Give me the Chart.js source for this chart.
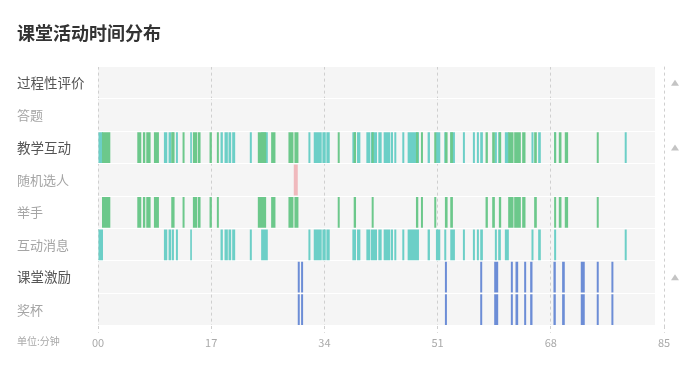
<!DOCTYPE html>
<html>
<head>
<meta charset="utf-8">
<script src="https://cdn.jsdelivr.net/npm/chart.js@4/dist/chart.umd.min.js"></script>
<style>
  html, body { margin: 0; padding: 0; background: #fff; }
  #wrap { width: 692px; height: 366px; }
</style>
</head>
<body>
<div id="wrap"><canvas id="chart"></canvas></div>
<script>
// linhas do gráfico (categorias)
const rows = ['过程性评价', '答题', '教学互动', '随机选人', '举手', '互动消息', '课堂激励', '奖杯'];
const groupRows = ['过程性评价', '教学互动', '课堂激励'];

// eixo x (minutos)
const xTicks = [0, 17, 34, 51, 68, 85];

// segmentos [início, fim] em minutos
const handUp = [
  [0.6, 1.85], [5.9, 6.5], [6.75, 7.1], [7.25, 7.9], [8.4, 9.15], [11.0, 11.5], [12.7, 13.0],
  [14.25, 14.9], [15.0, 15.4], [16.75, 17.1], [17.85, 18.15], [24.0, 25.25], [26.0, 26.65],
  [28.6, 29.35], [29.5, 30.1], [36.0, 36.3], [38.4, 38.75], [41.1, 41.4], [47.75, 48.1],
  [48.5, 48.8], [50.5, 50.8], [52.1, 52.5], [52.9, 53.3], [58.2, 58.55], [59.2, 59.6],
  [60.2, 60.55], [61.6, 62.4], [62.5, 63.5], [63.7, 64.2], [65.5, 65.9], [68.5, 68.8],
  [69.2, 69.6], [70.1, 70.6], [74.9, 75.2]
];
const messages = [
  [0, 0.75], [9.9, 10.4], [10.6, 11.0], [11.1, 11.4], [11.7, 12.0], [13.85, 14.1], [18.4, 18.75],
  [19.0, 19.5], [19.6, 20.0], [20.15, 20.6], [22.8, 23.1], [24.5, 25.5], [31.6, 31.9], [32.4, 33.6],
  [33.7, 34.2], [34.3, 34.8], [38.2, 38.75], [38.9, 39.4], [40.3, 40.9], [41.0, 41.9], [42.1, 42.6],
  [42.9, 43.9], [44.0, 44.3], [44.5, 44.8], [45.7, 46.0], [46.5, 48.2], [49.5, 49.85], [50.75, 51.4],
  [52.0, 52.3], [52.9, 53.6], [54.8, 55.1], [56.3, 56.6], [56.9, 57.2], [57.4, 57.8], [59.6, 59.9],
  [60.1, 60.5], [61.1, 61.7], [65.1, 65.4], [66.1, 66.5], [68.5, 68.8], [79.1, 79.4]
];
const randomPick = [[29.4, 30.0]];
const trophies = [
  [30.0, 30.3], [30.5, 30.8], [52.1, 52.4], [57.4, 57.7], [59.5, 60.1], [62.0, 62.3], [62.7, 63.1],
  [64.0, 64.3], [64.9, 65.25], [68.4, 68.75], [69.7, 70.1], [72.5, 73.1], [74.9, 75.2], [77.1, 77.4]
];

const FONT = '"Noto Sans CJK SC", "Noto Sans", sans-serif';

const toPoints = (segs, row) => segs.map(s => ({ x: s, y: row }));

const barDefaults = {
  grouped: false,
  borderWidth: 0,
  borderSkipped: false,
  barPercentage: 1,
  categoryPercentage: 0.95
};

// fundo cinza + triângulos + unidade
const decorPlugin = {
  id: 'decor',
  beforeDraw(chart) {
    const { ctx, chartArea } = chart;
    ctx.save();
    ctx.fillStyle = '#f5f5f5';
    ctx.fillRect(chartArea.left, chartArea.top, chartArea.right - 9 - chartArea.left, chartArea.bottom - chartArea.top);
    ctx.restore();
  },
  afterDraw(chart) {
    const { ctx, chartArea, scales } = chart;
    ctx.save();
    ctx.fillStyle = '#c4c4c4';
    groupRows.forEach(r => {
      const y = scales.y.getPixelForValue(rows.indexOf(r));
      const x = chartArea.right + 11;
      ctx.beginPath();
      ctx.moveTo(x, y - 3);
      ctx.lineTo(x + 4, y + 3);
      ctx.lineTo(x - 4, y + 3);
      ctx.closePath();
      ctx.fill();
    });
    ctx.fillStyle = '#a8a8a8';
    ctx.font = '10px ' + FONT;
    ctx.textBaseline = 'middle';
    ctx.textAlign = 'left';
    ctx.fillText('单位:分钟', 17, 341);
    ctx.restore();
  }
};

new Chart(document.getElementById('chart'), {
  type: 'bar',
  data: {
    labels: rows,
    datasets: [
      {
        ...barDefaults,
        label: '举手',
        data: [...toPoints(handUp, '教学互动'), ...toPoints(handUp, '举手')],
        backgroundColor: '#6cc88b'
      },
      {
        ...barDefaults,
        label: '互动消息',
        data: [...toPoints(messages, '教学互动'), ...toPoints(messages, '互动消息')],
        backgroundColor: '#6ccfc7'
      },
      {
        ...barDefaults,
        label: '随机选人',
        data: toPoints(randomPick, '随机选人'),
        backgroundColor: '#f0b9bd'
      },
      {
        ...barDefaults,
        label: '奖杯',
        data: [...toPoints(trophies, '课堂激励'), ...toPoints(trophies, '奖杯')],
        backgroundColor: '#6c8dd6'
      }
    ]
  },
  options: {
    indexAxis: 'y',
    responsive: true,
    maintainAspectRatio: false,
    animation: false,
    layout: { padding: { left: 17, right: 28, bottom: 14, top: 0 } },
    plugins: {
      legend: { display: false },
      tooltip: { enabled: false },
      title: {
        display: true,
        text: '课堂活动时间分布',
        align: 'start',
        color: '#333',
        font: { family: FONT, size: 18, weight: 'bold' },
        padding: { top: 22, bottom: 23 }
      }
    },
    scales: {
      x: {
        type: 'linear',
        min: 0,
        max: 85,
        afterBuildTicks: scale => { scale.ticks = xTicks.map(v => ({ value: v })); },
        ticks: {
          color: '#aaa',
          font: { family: FONT, size: 11 },
          padding: 3,
          callback: v => String(v).padStart(2, '0')
        },
        grid: {
          color: '#cfcfcf',
          tickColor: '#cfcfcf',
          tickLength: 7,
          tickBorderDash: [3, 3]
        },
        border: { display: false, dash: [3, 3] }
      },
      y: {
        type: 'category',
        afterFit: scale => { scale.width = 81; },
        ticks: {
          crossAlign: 'far',
          padding: 0,
          color: ctx => groupRows.includes(rows[ctx.index]) ? '#555' : '#a5a5a5',
          font: ctx => ({
            family: FONT,
            size: groupRows.includes(rows[ctx.index]) ? 13.5 : 13
          })
        },
        grid: {
          color: '#ffffff',
          lineWidth: 1,
          drawTicks: false
        },
        border: { display: false }
      }
    }
  },
  plugins: [decorPlugin]
});
</script>
</body>
</html>
